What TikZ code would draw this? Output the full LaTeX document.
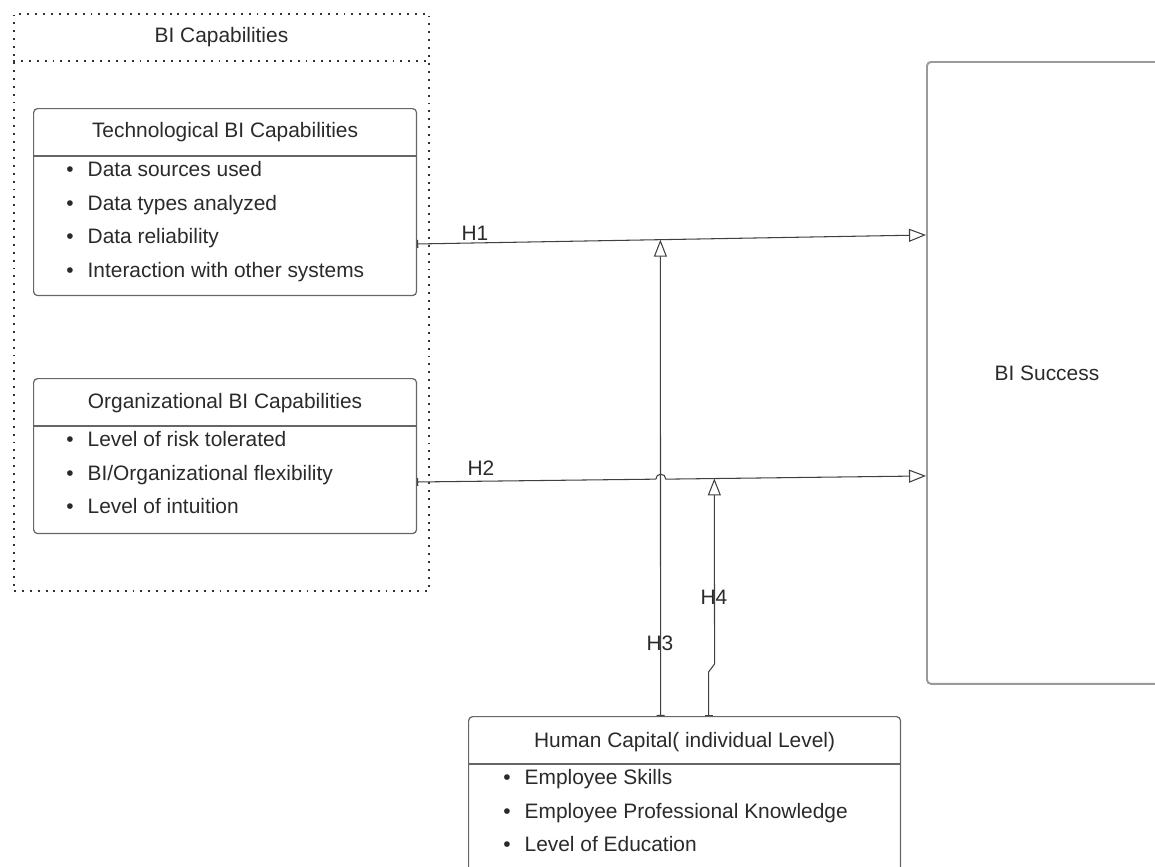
\documentclass[tikz,border=0pt]{standalone}
\usepackage{fontspec}
\setmainfont{Liberation Sans}
\usetikzlibrary{arrows.meta,positioning}

\definecolor{txtgray}{HTML}{2A2A2A}
\definecolor{linegray}{HTML}{666666}
\definecolor{succgray}{HTML}{9A9A9A}

\begin{document}
\begin{tikzpicture}[x=0.02cm,y=-0.02cm,>={Triangle[open,length=0.34cm,width=0.26cm]},
  font=\fontsize{11.9}{14}\selectfont,text=txtgray]
  \tikzstyle{box}=[draw=linegray,line width=0.7pt,rounded corners=0.08cm,anchor=north west,inner sep=0pt]
  \tikzstyle{group}=[draw=black!80,line width=1.1pt,dash pattern=on 1.1pt off 3.4pt,anchor=north west,inner sep=0pt]
  \tikzstyle{title}=[inner sep=0pt]
  \tikzstyle{item}=[anchor=west,inner sep=0pt,text height=1.6ex,text depth=0.4ex]
  \tikzstyle{hyp}=[{Bar[width=0.16cm]}->,draw=black!75,line width=0.6pt]
  \tikzstyle{hlabel}=[inner sep=1pt]

  \useasboundingbox (0,0) rectangle (1155,866);

  % capabilities group
  \node[group,minimum width=8.3cm,minimum height=11.54cm] (caps) at (13,13) {};
  \draw[group] ([yshift=-0.96cm]caps.north west) -- ([yshift=-0.96cm]caps.north east);
  \node[title] (capst) at ([yshift=-0.48cm]caps.north) {BI Capabilities};

  % boxes
  \node[box,minimum width=7.66cm,minimum height=3.74cm] (tech) at (33,108) {};
  \node[box,minimum width=7.66cm,minimum height=3.1cm] (org) at (33,378) {};
  \node[box,minimum width=8.64cm,minimum height=3.6cm] (human) at (468,716) {};
  \node[box,draw=succgray,line width=1.1pt,minimum width=4.8cm,minimum height=12.44cm] (succ) at (926,61) {};
  \node (succt) at (succ.center) {BI Success};
  \foreach \b in {tech,org,human}
    \draw[linegray,line width=0.7pt] ([yshift=-0.96cm]\b.north west) -- ([yshift=-0.96cm]\b.north east);

  \node[title] (techt) at ([yshift=-0.48cm]tech.north) {Technological BI Capabilities};
  \node[title] (orgt) at ([yshift=-0.5cm]org.north) {Organizational BI Capabilities};
  \node[title] (humant) at ([yshift=-0.52cm]human.north) {Human Capital( individual Level)};

  % items
  \node[item] (ti1) at (66,171) {\textbullet\hspace{0.28cm}Data sources used};
  \node[item,below=0.67cm of ti1.west,anchor=west] (ti2) {\textbullet\hspace{0.28cm}Data types analyzed};
  \node[item,below=0.67cm of ti2.west,anchor=west] (ti3) {\textbullet\hspace{0.28cm}Data reliability};
  \node[item,below=0.67cm of ti3.west,anchor=west] (ti4) {\textbullet\hspace{0.28cm}Interaction with other systems};

  \node[item] (oi1) at (66,441) {\textbullet\hspace{0.28cm}Level of risk tolerated};
  \node[item,below=0.67cm of oi1.west,anchor=west] (oi2) {\textbullet\hspace{0.28cm}BI/Organizational flexibility};
  \node[item,below=0.67cm of oi2.west,anchor=west] (oi3) {\textbullet\hspace{0.28cm}Level of intuition};

  \node[item] (hi1) at (503,779) {\textbullet\hspace{0.28cm}Employee Skills};
  \node[item,below=0.67cm of hi1.west,anchor=west] (hi2) {\textbullet\hspace{0.28cm}Employee Professional Knowledge};
  \node[item,below=0.67cm of hi2.west,anchor=west] (hi3) {\textbullet\hspace{0.28cm}Level of Education};

  % hypotheses
  \coordinate (h1a) at ([yshift=-2.72cm]tech.north east);
  \coordinate (h1b) at ([yshift=-3.48cm]succ.north west);
  \coordinate (h2a) at ([yshift=-2.08cm]org.north east);
  \coordinate (h2b) at ([yshift=-8.3cm]succ.north west);
  \path (h1a) -- (h1b) coordinate[pos=0.478] (m1);
  \path (h2a) -- (h2b) coordinate[pos=0.469] (hop) coordinate[pos=0.584] (m2);
  \coordinate (h3a) at ([xshift=-0.48cm]human.north);
  \coordinate (h4a) at ([xshift=0.48cm]human.north);

  \draw[hyp] (h1a) -- (h1b);
  \draw[hyp] (h2a) -- (hop) arc[start angle=180,end angle=0,radius=0.1cm] -- (h2b);
  \draw[hyp] (h3a) -- (m1);
  \draw[hyp] (h4a) -- ++(0,-44) -- ++(6,-8) -- (m2);

  \node[hlabel] (lh1) at (475,233) {H1};
  \node[hlabel] (lh2) at (481,468) {H2};
  \node[hlabel] (lh3) at (660,643) {H3};
  \node[hlabel] (lh4) at (714,597) {H4};
\end{tikzpicture}
\end{document}
